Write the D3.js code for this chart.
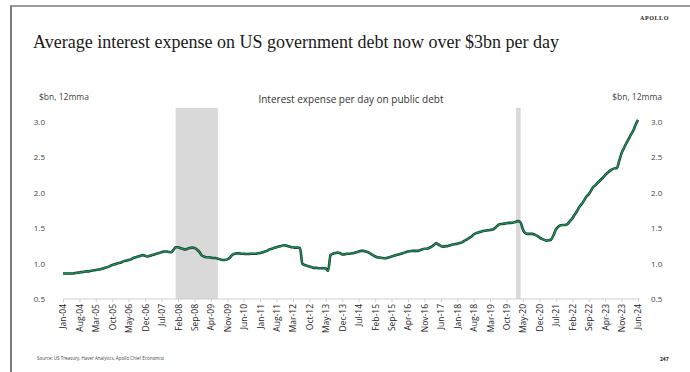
<!DOCTYPE html>
<html>
<head>
<meta charset="utf-8">
<script src="https://cdn.jsdelivr.net/npm/d3@7"></script>
<style>
  body { margin: 0; background: #fff; }
  text { font-family: "Open Sans", "Noto Sans", sans-serif; }
</style>
</head>
<body>
<div id="container"></div>
<script>
/* CONSTANTS AND GLOBALS */
const width = 690,
height = 372,
margin = { top: 122, bottom: 73, left: 63, right: 52 };

/* DATA */
// interest expense per day, $bn, 12mma, monthly Jan-04 .. Jun-24
const startYear = 2004
const values = [
  0.86,0.86,0.86,0.86,0.86,0.865,0.87,0.875,0.88,0.885,0.89,0.89,      // 2004
  0.90,0.905,0.91,0.915,0.92,0.93,0.94,0.95,0.965,0.98,0.99,1.00,      // 2005
  1.01,1.02,1.035,1.04,1.05,1.06,1.08,1.09,1.10,1.11,1.12,1.11,        // 2006
  1.10,1.11,1.12,1.13,1.14,1.15,1.16,1.17,1.17,1.165,1.16,1.19,        // 2007
  1.23,1.23,1.22,1.21,1.20,1.21,1.22,1.225,1.22,1.20,1.17,1.12,        // 2008
  1.10,1.09,1.09,1.085,1.08,1.08,1.07,1.06,1.05,1.05,1.06,1.08,        // 2009
  1.12,1.14,1.145,1.145,1.14,1.14,1.135,1.135,1.14,1.14,1.14,1.145,    // 2010
  1.15,1.16,1.17,1.18,1.20,1.21,1.22,1.23,1.24,1.25,1.26,1.255,        // 2011
  1.245,1.235,1.23,1.225,1.225,1.22,1.00,0.98,0.97,0.96,0.95,0.94,     // 2012
  0.94,0.935,0.935,0.935,0.93,0.90,1.12,1.14,1.15,1.155,1.15,1.13,     // 2013
  1.13,1.14,1.14,1.145,1.15,1.16,1.17,1.18,1.18,1.17,1.16,1.14,        // 2014
  1.12,1.10,1.09,1.085,1.08,1.075,1.08,1.09,1.10,1.11,1.12,1.13,       // 2015
  1.14,1.15,1.16,1.17,1.175,1.18,1.18,1.18,1.19,1.20,1.21,1.21,        // 2016
  1.22,1.24,1.26,1.285,1.27,1.25,1.24,1.245,1.25,1.26,1.27,1.275,      // 2017
  1.28,1.29,1.30,1.32,1.34,1.36,1.38,1.41,1.43,1.44,1.45,1.46,         // 2018
  1.465,1.47,1.475,1.48,1.50,1.53,1.555,1.56,1.565,1.57,1.575,1.575,   // 2019
  1.58,1.59,1.60,1.58,1.48,1.43,1.42,1.42,1.42,1.41,1.39,1.37,         // 2020
  1.35,1.335,1.325,1.33,1.34,1.40,1.48,1.52,1.54,1.545,1.545,1.56,     // 2021
  1.60,1.64,1.69,1.74,1.80,1.84,1.89,1.945,1.98,2.03,2.085,2.11,       // 2022
  2.15,2.18,2.21,2.25,2.28,2.31,2.33,2.345,2.35,2.45,2.56,2.63,        // 2023
  2.70,2.76,2.82,2.88,2.96,3.03                                        // 2024
]
const data = values.map((v, i) => ({ date: new Date(startYear, i, 1), value: v }))

// recession shading [start, end]
const recessions = [
  [new Date(2008, 0, 1), new Date(2009, 6, 1)],
  [new Date(2020, 1, 1), new Date(2020, 3, 1)]
]

// x tick labels every 7 months from Jan-04
const xTicks = d3.range(0, 246, 7).map(i => new Date(startYear, i, 1))
const yTicks = [0.5, 1.0, 1.5, 2.0, 2.5, 3.0]

/* SCALES */
const xScale = d3.scaleTime()
  .domain([data[0].date, data[data.length - 1].date])
  .range([margin.left, width - margin.right])

const yScale = d3.scaleLinear()
  .domain([0.5, 3.0])
  .range([height - margin.bottom, margin.top])

/* HTML ELEMENTS */
const svg = d3.select("#container")
  .append("svg")
  .attr("width", width)
  .attr("height", height)

// page frame
svg.append("line")
  .attr("x1", 10).attr("x2", width).attr("y1", 6).attr("y2", 6)
  .attr("stroke", "#7a7a7a").attr("stroke-width", 1.5)
svg.append("line")
  .attr("x1", 11).attr("x2", 11).attr("y1", 6).attr("y2", height)
  .attr("stroke", "#7a7a7a").attr("stroke-width", 2)

// header
svg.append("text")
  .attr("x", 640).attr("y", 20)
  .text("APOLLO")
  .style("font-family", "Liberation Serif, serif")
  .style("font-size", "6px")
  .style("font-weight", "bold")
  .style("letter-spacing", "0.6px")
  .attr("fill", "#222")

svg.append("text")
  .attr("x", 33).attr("y", 48)
  .text("Average interest expense on US government debt now over $3bn per day")
  .style("font-family", "Liberation Serif, serif")
  .style("font-size", "18px")
  .attr("fill", "#1a1a1a")

// recession bars
svg.selectAll("rect.rec")
  .data(recessions)
  .join("rect")
  .attr("class", "rec")
  .attr("x", d => xScale(d[0]))
  .attr("width", d => xScale(d[1]) - xScale(d[0]))
  .attr("y", yScale(3.2))
  .attr("height", yScale(0.5) - yScale(3.2))
  .attr("fill", "#d9d9d9")

// axes
const xAxis = d3.axisBottom(xScale)
  .tickValues(xTicks)
  .tickFormat(d3.timeFormat("%b-%y"))
  .tickSize(3)
const gx = svg.append("g")
  .attr("transform", `translate(0,${yScale(0.5)})`)
  .call(xAxis)
gx.select(".domain").attr("stroke", "#d0d0d0").attr("d", `M${margin.left},0H${width - margin.right + 2}`)
gx.selectAll(".tick line").attr("stroke", "#d0d0d0")
gx.selectAll(".tick text")
  .attr("transform", "rotate(-90)")
  .attr("x", -5).attr("y", 0).attr("dy", "0.35em")
  .style("text-anchor", "end")
  .style("font-size", "8.5px")
  .attr("fill", "#222")

const yAxisL = d3.axisLeft(yScale).tickValues(yTicks).tickFormat(d3.format(".1f")).tickSize(0)
const gyl = svg.append("g")
  .attr("transform", `translate(47,0)`)
  .call(yAxisL)
gyl.select(".domain").remove()
gyl.selectAll("text").style("font-size", "8px").attr("fill", "#444").attr("x", -2)

const yAxisR = d3.axisRight(yScale).tickValues(yTicks).tickFormat(d3.format(".1f")).tickSize(0)
const gyr = svg.append("g")
  .attr("transform", `translate(649,0)`)
  .call(yAxisR)
gyr.select(".domain").remove()
gyr.selectAll("text").style("font-size", "8px").attr("fill", "#444").attr("x", 2)

// line
const line = d3.line()
  .x(d => xScale(d.date))
  .y(d => yScale(d.value))
  .curve(d3.curveMonotoneX)

svg.append("path")
  .datum(data)
  .attr("fill", "none")
  .attr("stroke", "#1f3328")
  .attr("stroke-width", 2.6)
  .attr("stroke-linejoin", "round")
  .attr("d", line)
svg.append("path")
  .datum(data)
  .attr("fill", "none")
  .attr("stroke", "#16945c")
  .attr("stroke-width", 1.3)
  .attr("d", line)

// labels
svg.append("text")
  .attr("x", 39).attr("y", 100)
  .text("$bn, 12mma")
  .style("font-size", "8.5px")
  .attr("fill", "#444")

svg.append("text")
  .attr("x", 662).attr("y", 100)
  .text("$bn, 12mma")
  .style("text-anchor", "end")
  .style("font-size", "8.5px")
  .attr("fill", "#444")

svg.append("text")
  .attr("x", 351).attr("y", 103)
  .text("Interest expense per day on public debt")
  .style("text-anchor", "middle")
  .style("font-size", "10px")
  .attr("fill", "#333")

// footer
svg.append("text")
  .attr("x", 37).attr("y", 360)
  .text("Source: US Treasury, Haver Analytics, Apollo Chief Economist")
  .style("font-size", "4.5px")
  .attr("fill", "#444")

svg.append("text")
  .attr("x", 660).attr("y", 361)
  .text("247")
  .style("font-size", "5px")
  .style("font-weight", "bold")
  .attr("fill", "#222")
</script>
</body>
</html>
